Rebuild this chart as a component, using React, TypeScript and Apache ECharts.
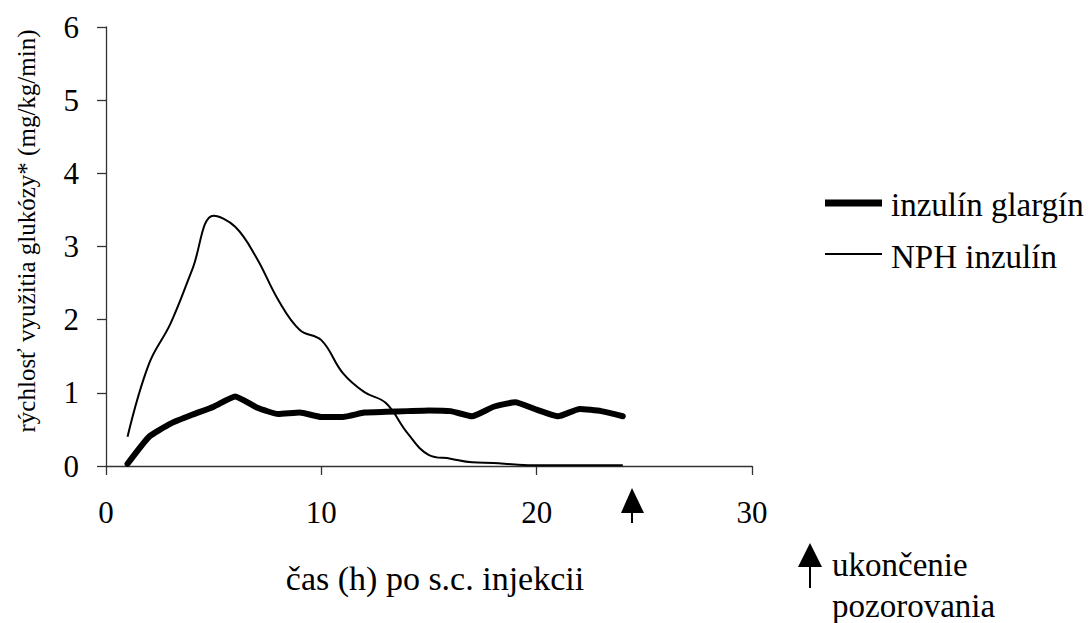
import { useEffect, useRef } from "react";
import * as echarts from "echarts";

const hours = [1, 2, 3, 4, 5, 6, 7, 8, 9, 10, 11, 12, 13, 14, 15, 16, 17, 18, 19, 20, 21, 22, 23, 24];
const glargine = [0.03, 0.4, 0.58, 0.7, 0.81, 0.95, 0.8, 0.71, 0.73, 0.67, 0.67, 0.73, 0.74, 0.75, 0.76, 0.75, 0.68, 0.81, 0.87, 0.77, 0.68, 0.78, 0.75, 0.68];
const nph = [0.4, 1.4, 1.95, 2.68, 3.42, 3.27, 2.84, 2.27, 1.86, 1.72, 1.27, 1.01, 0.86, 0.45, 0.15, 0.1, 0.05, 0.04, 0.02, 0.01, 0.01, 0.01, 0.01, 0.01];
const seriesNames = ["inzulín glargín", "NPH inzulín"];
const yTitle = "rýchlosť využitia glukózy* (mg/kg/min)";
const xTitle = "čas (h) po s.c. injekcii";
const noteLines = ["ukončenie", "pozorovania"];

const FONT = "Liberation Serif";

function txt(x: number, y: number, text: string, size: number, align: string, extra: any = {}) {
  return {
    type: "text",
    x,
    y,
    ...extra,
    style: { text, fontFamily: FONT, fontSize: size, fill: "#000", align, verticalAlign: "middle" },
  };
}

export default function App() {
  const ref = useRef<HTMLDivElement>(null);
  useEffect(() => {
    if (!ref.current) return;
    const chart = echarts.init(ref.current, null, { renderer: "svg" });
    const axisLine = { show: true, lineStyle: { color: "#333", width: 1.3 } };
    chart.setOption({
      animation: false,
      backgroundColor: "#fff",
      textStyle: { fontFamily: FONT, color: "#000" },
      grid: { left: 106, right: 338, top: 27, bottom: 157, containLabel: false },
      xAxis: {
        type: "value",
        min: 0,
        max: 30,
        interval: 10,
        axisLine,
        axisTick: { show: true, inside: false, length: 9, lineStyle: { color: "#333", width: 1.3 } },
        splitLine: { show: false },
        axisLabel: { fontFamily: FONT, fontSize: 31, color: "#000", margin: 31 },
      },
      yAxis: {
        type: "value",
        min: 0,
        max: 6,
        interval: 1,
        axisLine,
        axisTick: { show: true, inside: false, length: 9, lineStyle: { color: "#333", width: 1.3 } },
        splitLine: { show: false },
        axisLabel: { fontFamily: FONT, fontSize: 31, color: "#000", margin: 27 },
      },
      series: [
        {
          name: seriesNames[0],
          type: "line",
          data: hours.map((h, i) => [h, glargine[i]]),
          showSymbol: false,
          smooth: 0.15,
          lineStyle: { color: "#000", width: 6, join: "round", cap: "round" },
          z: 3,
        },
        {
          name: seriesNames[1],
          type: "line",
          data: hours.map((h, i) => [h, nph[i]]),
          showSymbol: false,
          smooth: 0.4,
          lineStyle: { color: "#000", width: 2 },
          z: 2,
        },
      ],
      graphic: [
        txt(26, 231, yTitle, 25, "center", { rotation: Math.PI / 2 }),
        txt(435, 578, xTitle, 34, "center"),
        { type: "line", shape: { x1: 825, y1: 203, x2: 882, y2: 203 }, style: { stroke: "#000", lineWidth: 7 } },
        { type: "line", shape: { x1: 825, y1: 254, x2: 882, y2: 254 }, style: { stroke: "#000", lineWidth: 2 } },
        txt(891, 205, seriesNames[0], 33, "left"),
        txt(891, 257, seriesNames[1], 33, "left"),
        { type: "polygon", shape: { points: [[632, 488], [621, 513], [644, 513]] }, style: { fill: "#000" } },
        { type: "line", shape: { x1: 632, y1: 510, x2: 632, y2: 523 }, style: { stroke: "#000", lineWidth: 2 } },
        { type: "polygon", shape: { points: [[810, 543], [798, 567], [822, 567]] }, style: { fill: "#000" } },
        { type: "line", shape: { x1: 810, y1: 564, x2: 810, y2: 588 }, style: { stroke: "#000", lineWidth: 2 } },
        txt(832, 565, noteLines[0], 33, "left"),
        txt(832, 606, noteLines[1], 33, "left"),
      ],
    });
    return () => chart.dispose();
  }, []);
  return <div ref={ref} style={{ position: "absolute", left: 0, top: 0, width: 1090, height: 623 }} />;
}
